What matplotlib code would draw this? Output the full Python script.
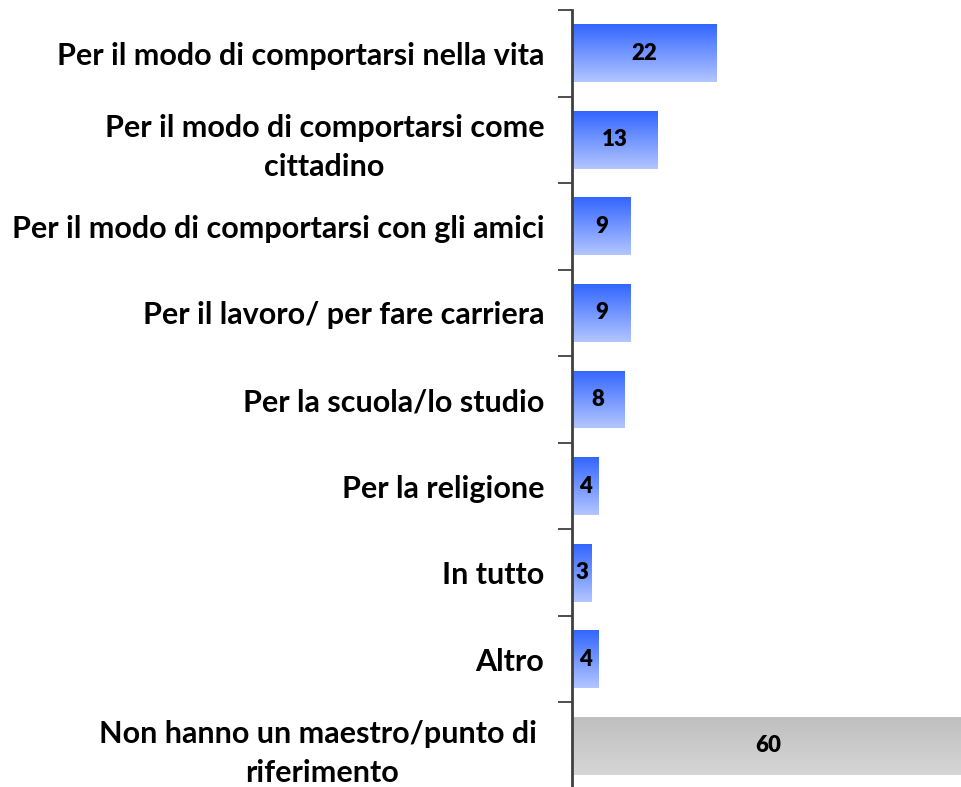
import numpy as np
import matplotlib
matplotlib.use("Agg")
import matplotlib.pyplot as plt
from matplotlib.colors import LinearSegmentedColormap

# categories, top to bottom
labels = ["Per il modo di comportarsi nella vita",
          "Per il modo di comportarsi come\ncittadino",
          "Per il modo di comportarsi con gli amici",
          "Per il lavoro/ per fare carriera",
          "Per la scuola/lo studio",
          "Per la religione",
          "In tutto",
          "Altro",
          "Non hanno un maestro/punto di \nriferimento"]
values = [22, 13, 9, 9, 8, 4, 3, 4, 60]
is_grey = [False] * 8 + [True]

plt.rcParams['font.family'] = ['Lato', 'DejaVu Sans']

fig = plt.figure(figsize=(9.61, 7.87), dpi=100)
ax = fig.add_axes([572 / 961, -2 / 787, 1 - 572 / 961, 779 / 787])

y = np.arange(len(values))
bars = ax.barh(y, values, height=0.67, color='none', edgecolor='none')

blue = LinearSegmentedColormap.from_list('b', ['#3366ff', '#b3c6ff'])
grey = LinearSegmentedColormap.from_list('g', ['#bfbfbf', '#d6d6d6'])
grad = np.linspace(0, 1, 256).reshape(-1, 1)

for b, g in zip(bars, is_grey):
    x0, y0, w, h = b.get_x(), b.get_y(), b.get_width(), b.get_height()
    im = ax.imshow(grad, cmap=grey if g else blue, aspect='auto',
                   extent=(x0, x0 + w, y0 + h, y0), zorder=2,
                   interpolation='bilinear')
    im.set_clip_path(b)

for yi, v in zip(y, values):
    ax.text(v / 2, yi, str(v), ha='center', va='center',
            fontsize=16, fontweight='heavy', color='black', zorder=3)

ax.set_xlim(0, 59.4)
ax.set_ylim(len(values) - 0.5, -0.5)

ax.set_yticks(y)
ax.set_yticklabels(labels, fontsize=22, fontweight='bold',
                   multialignment='center', linespacing=1.45)
ax.set_yticks(np.arange(len(values) + 1) - 0.5, minor=True)
ax.tick_params(axis='y', which='major', length=0, pad=20)
ax.tick_params(axis='y', which='minor', length=10, width=1.3, color='#404040')
ax.set_xticks([])

for s in ['top', 'right', 'bottom']:
    ax.spines[s].set_visible(False)
ax.spines['left'].set_color('#404040')
ax.spines['left'].set_linewidth(2)

fig.savefig('out.png', dpi=100)
